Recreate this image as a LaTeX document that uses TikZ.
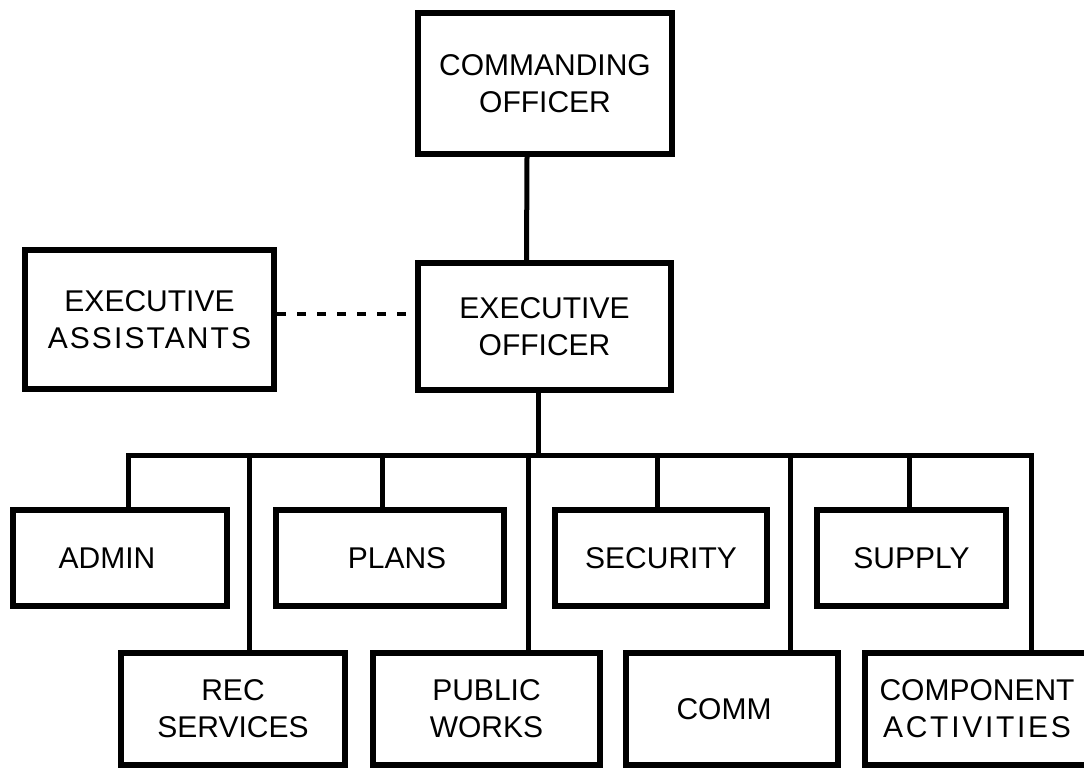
\documentclass[tikz,border=0pt]{standalone}
\usepackage{fontspec}
\setmainfont{Liberation Sans}
\begin{document}
\begin{tikzpicture}[x=1pt,y=-1pt,
  orgbox/.style={draw=black, line width=6pt, fill=white, rectangle, align=center,
    inner sep=0pt, font=\fontsize{30}{37}\selectfont},
  link/.style={draw=black, line width=5pt},
  dotlink/.style={draw=black, line width=3.5pt, dash pattern=on 9pt off 11pt}]
\useasboundingbox[fill=white] (0,0) rectangle (1084,771);
% top levels
\node[orgbox, minimum width=254pt, minimum height=141pt] (co) at (545,83.5) {COMMANDING\\OFFICER};
\node[orgbox, minimum width=253pt, minimum height=127pt] (eo) at (544.5,326.5) {EXECUTIVE\\OFFICER};
\node[orgbox, minimum width=249pt, minimum height=139pt] (ea) at (149.5,319.5) {EXECUTIVE\\{\addfontfeatures{LetterSpace=7}ASSISTANTS}};
% upper row of departments
\node[orgbox, minimum width=214pt, minimum height=96pt] (admin) at (120,558) {ADMIN\hspace*{26pt}};
\node[orgbox, minimum width=228pt, minimum height=96pt] (plans) at (390,558) {\hspace*{14pt}PLANS};
\node[orgbox, minimum width=212pt, minimum height=96pt] (sec) at (661,558) {SECURITY};
\node[orgbox, minimum width=189pt, minimum height=96pt] (supply) at (911.5,558) {SUPPLY};
% lower row of departments
\node[orgbox, minimum width=224pt, minimum height=112pt] (rec) at (233,709) {REC\\SERVICES};
\node[orgbox, minimum width=227pt, minimum height=112pt] (pw) at (486.5,709) {PUBLIC\\WORKS};
\node[orgbox, minimum width=212pt, minimum height=112pt] (comm) at (732,709) {COMM\hspace*{16pt}};
\node[orgbox, minimum width=224pt, minimum height=112pt] (comp) at (977,709) {COMPONENT\\{\addfontfeatures{LetterSpace=9}ACTIVITIES}};
% connectors
\coordinate (bus) at (538,455);
\draw[link] ([xshift=-18pt]co.south) -- ([xshift=-18pt]eo.north);
\draw[link] ([xshift=-6.5pt]eo.south) -- (bus);
\draw[link, line join=miter] ([xshift=8pt]admin.north) |- (bus) -| ([xshift=54pt]comp.north);
\draw[link] ([xshift=16pt]rec.north) -- ([xshift=16pt]rec.north |- bus);
\draw[link] ([xshift=-8pt]plans.north) -- ([xshift=-8pt]plans.north |- bus);
\draw[link] ([xshift=41.5pt]pw.north) -- ([xshift=41.5pt]pw.north |- bus);
\draw[link] ([xshift=-4pt]sec.north) -- ([xshift=-4pt]sec.north |- bus);
\draw[link] ([xshift=58pt]comm.north) -- ([xshift=58pt]comm.north |- bus);
\draw[link] ([xshift=-2.5pt]supply.north) -- ([xshift=-2.5pt]supply.north |- bus);
\draw[dotlink] ([yshift=5.5pt]ea.east) -- ([yshift=5.5pt]ea.east -| eo.west);
\end{tikzpicture}
\end{document}
